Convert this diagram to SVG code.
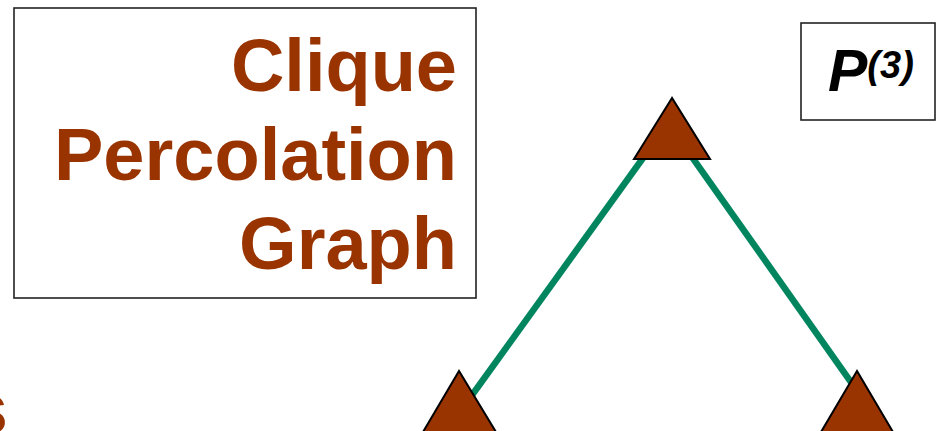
<svg xmlns="http://www.w3.org/2000/svg" width="936" height="431" viewBox="0 0 936 431">
<style>
.title{font-family:"Liberation Sans",Arial,sans-serif;font-weight:bold;font-size:74px;fill:#993300}
.box{fill:#ffffff;stroke:#222222;stroke-width:1.6}
.edge{stroke:#00855F;stroke-width:6.5;fill:none}
.tri{fill:#993300;stroke:#000000;stroke-width:2;stroke-linejoin:miter}
.lbl{font-family:"Liberation Sans",Arial,sans-serif;font-weight:bold;font-style:italic;fill:#000000}
</style>
<rect width="936" height="431" fill="#ffffff"/>
<g id="title">
<rect class="box" x="14" y="8" width="462" height="290"/>
<text class="title" x="457" y="91" text-anchor="end">Clique</text>
<text class="title" x="457" y="180" text-anchor="end">Percolation</text>
<text class="title" x="457" y="269" text-anchor="end">Graph</text>
</g>
<g id="partial-text">
<text class="title" x="8" y="434" text-anchor="end">s</text>
</g>
<g id="label-p3">
<rect class="box" x="801" y="23" width="134" height="97"/>
<text class="lbl" x="828" y="91" font-size="59">P<tspan font-size="38" dy="-13">(3)</tspan></text>
</g>
<g id="connectors">
<line class="edge" x1="656" y1="140" x2="462" y2="409"/>
<line class="edge" x1="680" y1="140" x2="870" y2="409"/>
</g>
<g id="node-top">
<polygon class="tri" points="672,98 634,159 710,159"/>
</g>
<g id="node-left">
<polygon class="tri" points="459,371 423,432 496,432"/>
</g>
<g id="node-right">
<polygon class="tri" points="857,371 821,432 893,432"/>
</g>
</svg>
